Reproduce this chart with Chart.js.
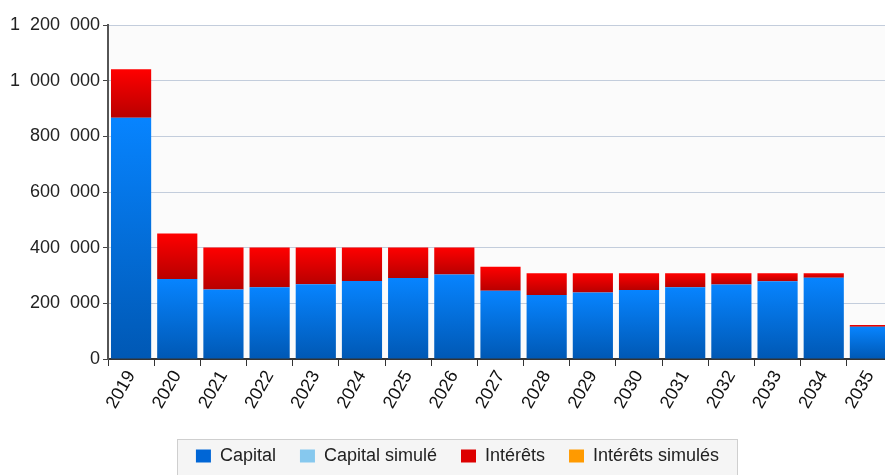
<!DOCTYPE html>
<html>
<head>
<meta charset="utf-8">
<script src="https://cdn.jsdelivr.net/npm/chart.js@4.4.0/dist/chart.umd.min.js"></script>
<style>
  html, body { margin: 0; padding: 0; background: #fff; overflow: hidden; }
  #wrap { width: 912px; height: 475px; }
</style>
</head>
<body>
<div id="wrap"><canvas id="chart" width="912" height="475"></canvas></div>
<script>
const years = ['2019', '2020', '2021', '2022', '2023', '2024', '2025', '2026', '2027',
    '2028', '2029', '2030', '2031', '2032', '2033', '2034', '2035']
const capital = [867000, 287000, 250000, 258000, 269000, 280000, 291000, 304000, 245000,
    230000, 239000, 248000, 258000, 268000, 279000, 292000, 116000]
const capitalSimule = [0, 0, 0, 0, 0, 0, 0, 0, 0, 0, 0, 0, 0, 0, 0, 0, 0]
const interets = [174000, 164000, 151000, 143000, 132000, 121000, 110000, 97000, 86000,
    78000, 69000, 60000, 50000, 40000, 29000, 16000, 6000]
const interetsSimules = [0, 0, 0, 0, 0, 0, 0, 0, 0, 0, 0, 0, 0, 0, 0, 0, 0]
const yTicks = [0, 200000, 400000, 600000, 800000, 1000000, 1200000]

// thousands separated by a wide gap, like the original
const fmt = v => String(v).replace(/\B(?=(\d{3})+(?!\d))/g, '  ')

// gradient per bar segment, from its top to its bottom
function segGradient(ctx, bottomVals, vals, top, bottom) {
    const chart = ctx.chart
    const y = chart.scales.y
    if (!y || ctx.type !== 'data') return bottom
    const i = ctx.dataIndex
    const lo = bottomVals ? bottomVals[i] : 0
    const y0 = y.getPixelForValue(lo)
    const y1 = y.getPixelForValue(lo + vals[i])
    if (!isFinite(y0) || !isFinite(y1) || y0 === y1) return bottom
    const g = chart.ctx.createLinearGradient(0, y1, 0, y0)
    g.addColorStop(0, top)
    g.addColorStop(1, bottom)
    return g
}

const LEGEND_SHIFT = 11

const legendBox = {
    id: 'legendBox',
    afterLayout(chart) {
        // the legend sits a little right of the canvas centre
        const lg = chart.legend
        if (!lg) return
        lg.left += LEGEND_SHIFT
        lg.right += LEGEND_SHIFT
        lg.legendHitBoxes.forEach(h => { h.left += LEGEND_SHIFT })
    },
    beforeDraw(chart) {
        const { ctx, chartArea } = chart
        ctx.save()
        ctx.fillStyle = '#fbfbfb'
        ctx.fillRect(chartArea.left, chartArea.top, chartArea.right - chartArea.left, chartArea.bottom - chartArea.top)
        const lg = chart.legend
        if (lg && lg.legendHitBoxes && lg.legendHitBoxes.length) {
            const hb = lg.legendHitBoxes
            const last = hb[hb.length - 1]
            const x0 = hb[0].left - 19
            const x1 = last.left + last.width + 18
            const y0 = hb[0].top + hb[0].height / 2 - 17
            ctx.fillStyle = '#f5f5f5'
            ctx.strokeStyle = '#cfcfcf'
            ctx.lineWidth = 1
            ctx.fillRect(x0, y0, x1 - x0, 60)
            ctx.strokeRect(Math.round(x0) + 0.5, Math.round(y0) + 0.5, Math.round(x1 - x0), 60)
        }
        ctx.restore()
    }
}

new Chart(document.getElementById('chart'), {
    type: 'bar',
    data: {
        labels: years,
        datasets: [
            {
                label: 'Capital',
                data: capital,
                backgroundColor: c => segGradient(c, null, capital, '#0784ff', '#0058b4'),
                stack: 's'
            },
            {
                label: 'Capital simulé',
                data: capitalSimule,
                backgroundColor: '#86c8ee',
                stack: 's'
            },
            {
                label: 'Intérêts',
                data: interets,
                backgroundColor: c => segGradient(c, capital, interets, '#ff0000', '#b80000'),
                stack: 's'
            },
            {
                label: 'Intérêts simulés',
                data: interetsSimules,
                backgroundColor: '#ff9a00',
                stack: 's'
            }
        ]
    },
    options: {
        responsive: false,
        animation: false,
        layout: { padding: { top: 25, right: 19, left: 0, bottom: 0 } },
        datasets: { bar: { barPercentage: 0.87, categoryPercentage: 1 } },
        plugins: {
            tooltip: { enabled: false },
            legend: {
                position: 'bottom',
                labels: {
                    boxWidth: 15,
                    boxHeight: 13,
                    padding: 24,
                    color: '#222',
                    font: { family: 'Liberation Sans, Arial, sans-serif', size: 18 },
                    generateLabels: chart => chart.data.datasets.map((ds, i) => ({
                        text: ds.label,
                        fillStyle: ['#0066d6', '#86c8ee', '#dd0000', '#ff9a00'][i],
                        strokeStyle: 'transparent',
                        lineWidth: 0,
                        fontColor: '#222',
                        datasetIndex: i
                    }))
                }
            }
        },
        scales: {
            x: {
                stacked: true,
                afterFit: s => { s.height = 64 },
                border: { color: '#333', width: 2 },
                grid: { drawOnChartArea: false, drawTicks: true, tickLength: 7, tickColor: '#333', offset: true },
                ticks: {
                    minRotation: 60,
                    maxRotation: 60,
                    padding: 1,
                    color: '#111',
                    font: { family: 'Liberation Sans, Arial, sans-serif', size: 18 }
                }
            },
            y: {
                stacked: true,
                min: 0,
                max: 1200000,
                afterFit: s => { s.width = 108 },
                afterBuildTicks: s => { s.ticks = yTicks.map(v => ({ value: v })) },
                border: { color: '#555', width: 2 },
                grid: { color: '#c3cddc', lineWidth: 1, tickColor: '#444', tickLength: 5 },
                ticks: {
                    color: '#222',
                    padding: 3,
                    font: { family: 'Liberation Sans, Arial, sans-serif', size: 18 },
                    callback: v => fmt(v)
                }
            }
        }
    },
    plugins: [legendBox]
})
</script>
</body>
</html>
